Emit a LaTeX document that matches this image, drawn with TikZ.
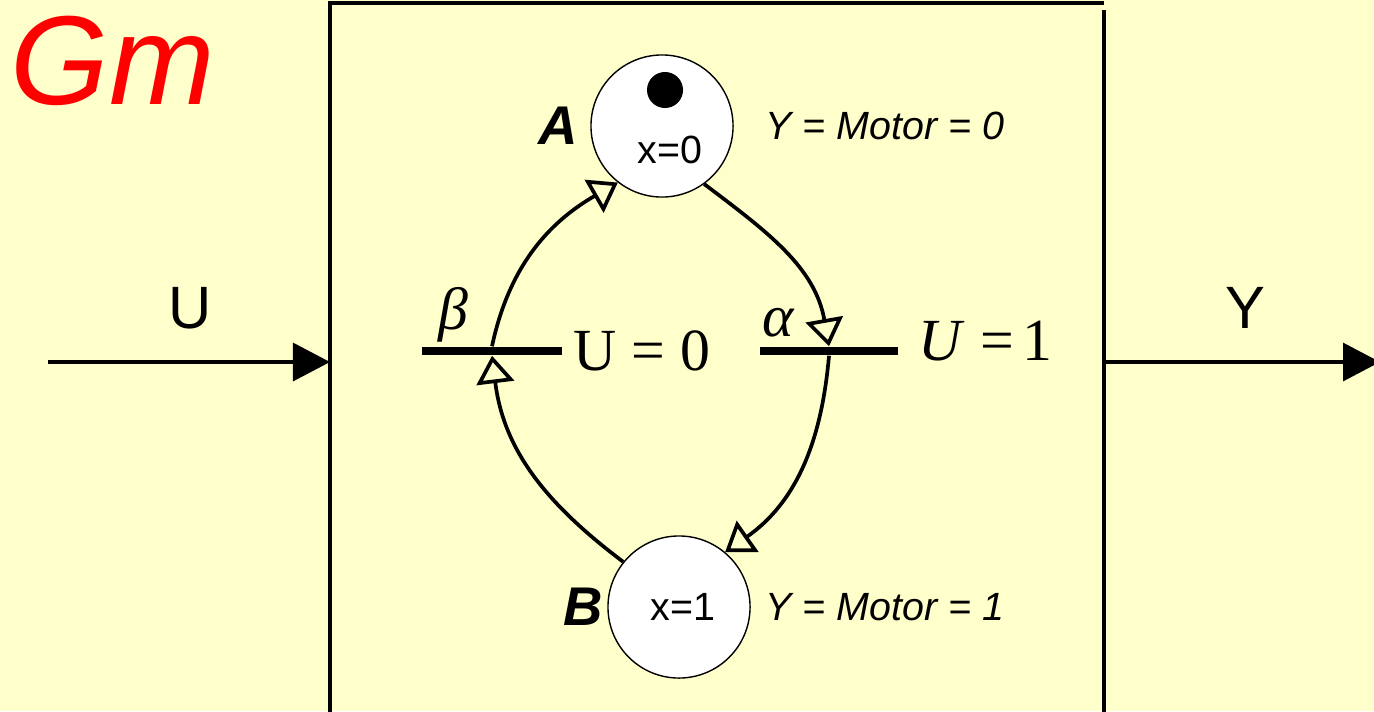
\documentclass[tikz,border=0pt]{standalone}
\usepackage{fontspec}
\setmainfont{Liberation Serif}
\setsansfont{Liberation Sans}
\usetikzlibrary{arrows.meta,positioning}
\definecolor{bgyellow}{HTML}{FFFFCC}

\tikzset{
  place/.style={circle,draw,thin,fill=white,minimum size=1.42cm,inner sep=0pt},
  token/.style={circle,fill=black,minimum size=0.36cm,inner sep=0pt},
  trans/.style={rectangle,fill=black,minimum height=0.08cm,inner sep=0pt},
  arc/.style={line width=1.05pt,-{Triangle[open,length=5.5mm,width=7.5mm,scale=0.5]}},
  signal/.style={line width=0.9pt,-{Triangle[length=0.37cm,width=0.38cm]}},
  txt/.style={inner sep=0pt,font=\sffamily\fontsize{11.2}{13}\selectfont}
}

\begin{document}
\begin{tikzpicture}[x=0.01cm,y=0.01cm]
    % 背景
    \fill[bgyellow] (0,0) rectangle (1374,711);
    \useasboundingbox (0,0) rectangle (1374,711);

    % 标题
    \node[anchor=base west,inner sep=0pt,red,font=\sffamily\itshape\fontsize{36}{38}\selectfont] (title) at (10,607) {Gm};

    % 方框
    \draw[line width=0.9pt] (330,-5) -- (330,708) -- (1104,708);
    \draw[line width=0.9pt] (1104,701) -- (1104,-5);

    % 输入和输出
    \coordinate (uin) at (48,349);
    \coordinate (uend) at (330,349);
    \coordinate (yin) at (1104,349);
    \coordinate (yend) at (1380,349);
    \draw[signal] (uin) -- (uend);
    \draw[signal] (yin) -- (yend);
    \node[inner sep=0pt,font=\sffamily\fontsize{17}{19}\selectfont] (ulabel) at (190,403) {U};
    \node[inner sep=0pt,font=\sffamily\fontsize{17}{19}\selectfont] (ylabel) at (1245,403) {Y};

    % 位置
    \node[place] (pA) at (662,585) {};
    \node[place] (pB) at (679,104) {};
    \node[token] (tok) at (665,621) {};
    \node[txt] (xA) at (670,561) {x=0};
    \node[txt] (xB) at (683,104) {x=1};
    \node[inner sep=0pt,font=\sffamily\bfseries\itshape\fontsize{15.5}{17}\selectfont,left=0.12cm of pA] (nA) {A};
    \node[inner sep=0pt,font=\sffamily\bfseries\itshape\fontsize{15.5}{17}\selectfont,left=0.04cm of pB] (nB) {B};
    \node[txt,anchor=west,font=\sffamily\itshape\fontsize{11.2}{13}\selectfont] (yA) at (765,585) {Y = Motor = 0};
    \node[txt,anchor=west,font=\sffamily\itshape\fontsize{11.2}{13}\selectfont] (yB) at (765,104) {Y = Motor = 1};

    % 变迁
    \node[trans,minimum width=1.40cm] (tb) at (492,360) {};
    \node[trans,minimum width=1.38cm] (ta) at (829,360) {};
    \node[inner sep=0pt,font=\itshape\fontsize{17}{19}\selectfont] (lb) at (453,396) {β};
    \node[inner sep=0pt,font=\itshape\fontsize{17}{19}\selectfont] (la) at (778,388) {α};
    \node[anchor=base west,inner sep=0pt,font=\fontsize{17}{19}\selectfont] (cb) at (573,341) {U = 0};
    \node[anchor=base west,inner sep=0pt,font=\fontsize{17}{19}\selectfont] (ca) at (918,351) {\textit{U} =\kern0.15em1};

    % 弧
    \draw[arc] (pB.141) to[out=143,in=-83] (tb.south);
    \draw[arc] (tb.north) to[out=78,in=210] (pA.232);
    \draw[arc] (pA.306) to[out=-37,in=100] (ta.north);
    \draw[arc] (ta.south) to[out=-95,in=35] (pB.50);
\end{tikzpicture}
\end{document}
